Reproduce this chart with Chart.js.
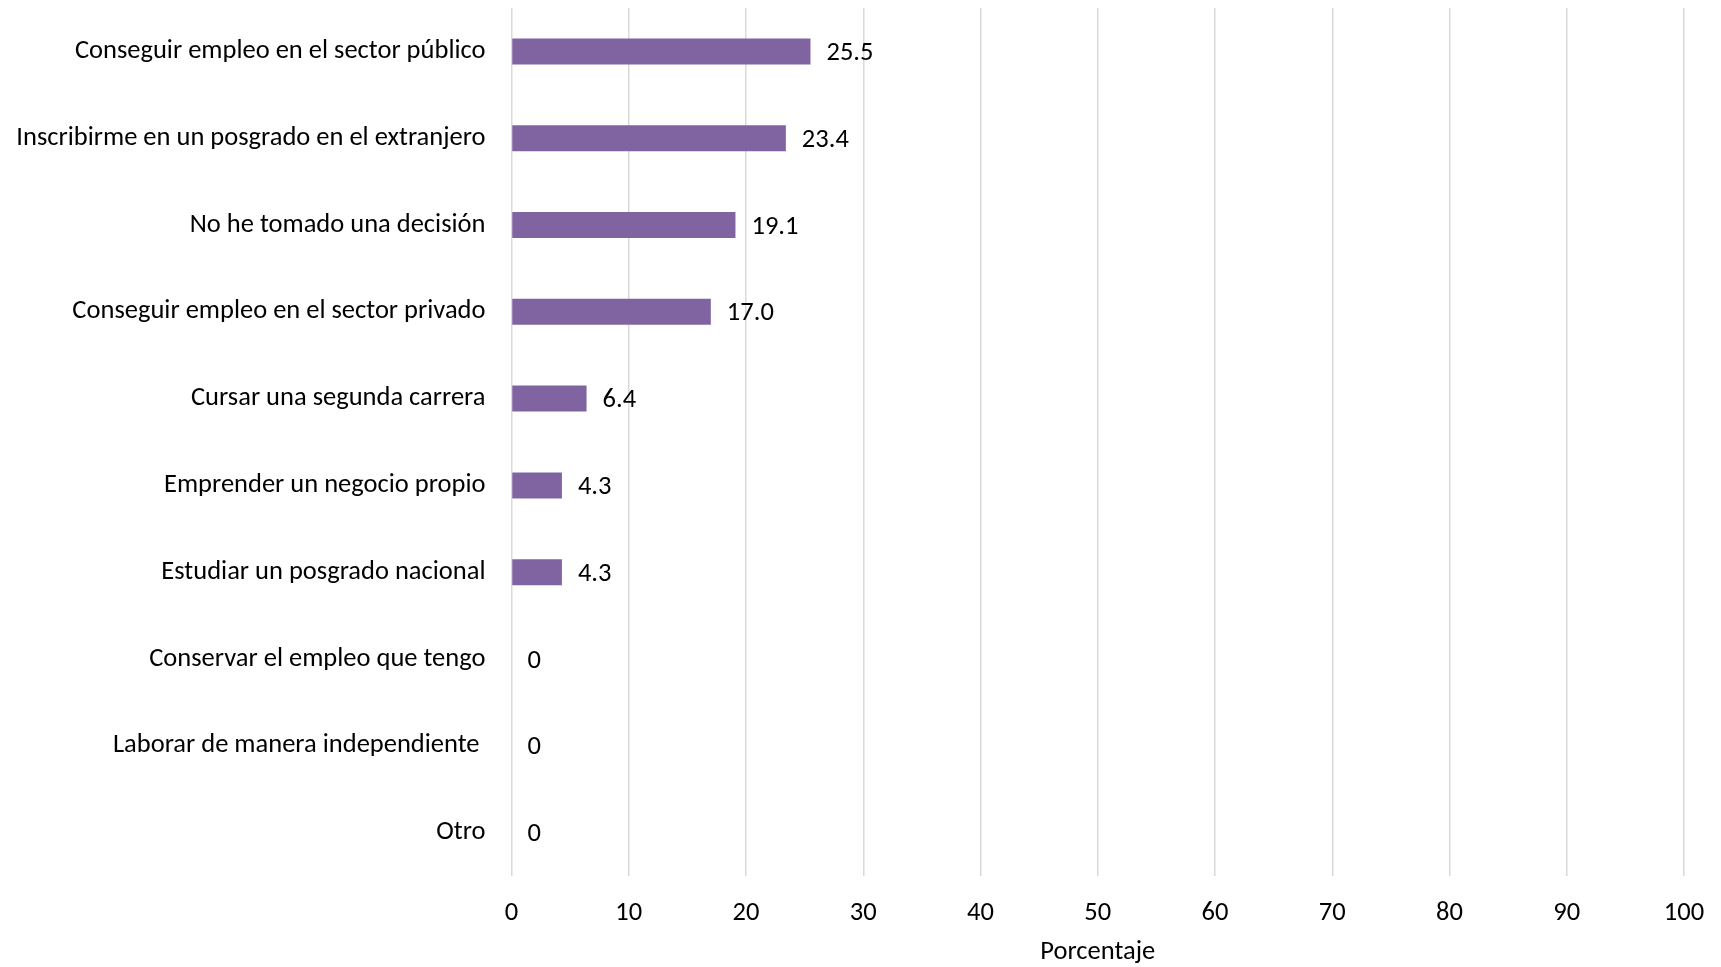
<!DOCTYPE html>
<html>
<head>
<meta charset="utf-8">
<script src="https://cdn.jsdelivr.net/npm/chart.js@4"></script>
<style>
  html, body { margin: 0; padding: 0; background: #ffffff; }
  #wrap { width: 1721px; height: 967px; position: relative; }
</style>
</head>
<body>
<div id="wrap"><canvas id="c" width="1721" height="967"></canvas></div>
<script>
const categories = [
  "Conseguir empleo en el sector público",
  "Inscribirme en un posgrado en el extranjero",
  "No he tomado una decisión",
  "Conseguir empleo en el sector privado",
  "Cursar una segunda carrera",
  "Emprender un negocio propio",
  "Estudiar un posgrado nacional",
  "Conservar el empleo que tengo",
  "Laborar de manera independiente ",
  "Otro"
];
const values = [25.5, 23.4, 19.1, 17.0, 6.4, 4.3, 4.3, 0, 0, 0];
const xTicks = [0, 10, 20, 30, 40, 50, 60, 70, 80, 90, 100];
const axisTitle = "Porcentaje";

const FONT = "Carlito, Lato, sans-serif";
const FS = 26.5;

const valueLabels = {
  id: 'valueLabels',
  afterDatasetsDraw(chart) {
    const ctx = chart.ctx;
    const meta = chart.getDatasetMeta(0);
    ctx.save();
    ctx.font = FS + "px " + FONT;
    ctx.fillStyle = "#000000";
    ctx.textAlign = "left";
    ctx.textBaseline = "middle";
    meta.data.forEach((bar, i) => {
      const v = values[i];
      const txt = v === 0 ? "0" : v.toFixed(1);
      ctx.fillText(txt, bar.x + 16, bar.y + 2);
    });
    ctx.restore();
  }
};

new Chart(document.getElementById('c'), {
  type: 'bar',
  data: {
    labels: categories,
    datasets: [{
      data: values,
      backgroundColor: '#8064A2',
      borderWidth: 0,
      barPercentage: 0.3,
      categoryPercentage: 1.0
    }]
  },
  options: {
    indexAxis: 'y',
    responsive: false,
    animation: false,
    devicePixelRatio: 1,
    layout: { padding: { left: 0, right: 37, top: 8, bottom: 0 } },
    plugins: { legend: { display: false }, tooltip: { enabled: false } },
    scales: {
      x: {
        min: 0, max: 100,
        afterBuildTicks(scale) { scale.ticks = xTicks.map(v => ({ value: v })); },
        afterFit(scale) { scale.height = 91; scale.paddingLeft = 0; scale.paddingRight = 0; },
        grid: { color: '#d9d9d9', lineWidth: 1.5, drawTicks: false },
        border: { display: false },
        ticks: { color: '#000000', font: { family: FONT, size: FS }, padding: 21, maxRotation: 0 },
        title: { display: true, text: axisTitle, color: '#000000', font: { family: FONT, size: FS }, padding: { top: 0, bottom: -1 } }
      },
      y: {
        afterFit(scale) { scale.width = 511.5; scale.paddingTop = 0; scale.paddingBottom = 0; },
        grid: { display: false, drawTicks: false },
        border: { display: false },
        ticks: { color: '#000000', font: { family: FONT, size: FS }, padding: 26, autoSkip: false }
      }
    }
  },
  plugins: [valueLabels]
});
</script>
</body>
</html>
